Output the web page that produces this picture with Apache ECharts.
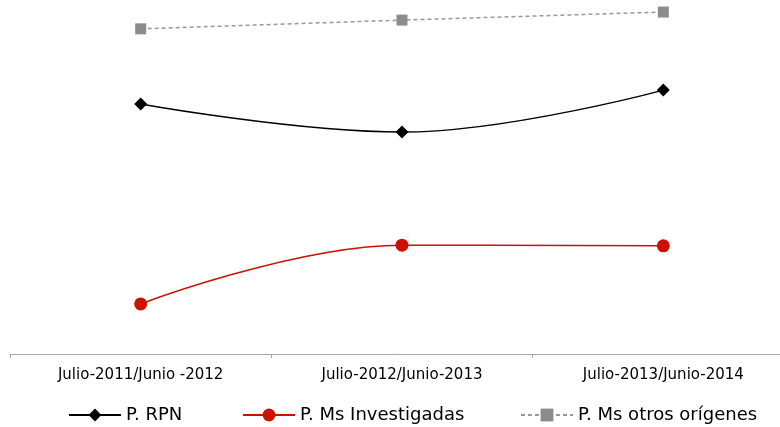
<!DOCTYPE html>
<html><head><meta charset="utf-8">
<script src="https://cdn.jsdelivr.net/npm/echarts@6/dist/echarts.min.js"></script>
<style>html,body{margin:0;padding:0;background:#fff}#c{width:780px;height:427px}</style>
</head><body><div id="c"></div>
<script>
var categories = ['Julio-2011/Junio -2012', 'Julio-2012/Junio-2013', 'Julio-2013/Junio-2014'];
var seriesNames = ['P. RPN', 'P. Ms Investigadas', 'P. Ms otros orígenes'];
var rpn = [71.4, 63.4, 75.4];
var investigadas = [14.3, 31.1, 30.9];
var otros = [92.9, 95.4, 97.7];

var legendText = {color: '#000', fontFamily: 'DejaVu Sans', fontSize: 18};
function leg(name, left) {
  return {top: 401, left: left, itemWidth: 52, itemHeight: 16, itemGap: 8,
          textStyle: legendText, data: [name]};
}
var chart = echarts.init(document.getElementById('c'), null, {renderer: 'canvas'});
chart.setOption({
  animation: false,
  backgroundColor: '#fff',
  grid: {left: 10, top: 4, width: 784, height: 350, containLabel: false, outerBoundsMode: 'none'},
  xAxis: {
    type: 'category', data: categories, boundaryGap: true,
    axisLine: {lineStyle: {color: '#a6a6a6', width: 1}},
    axisTick: {show: true, length: 4, lineStyle: {color: '#a6a6a6'}},
    axisLabel: {color: '#000', fontFamily: 'DejaVu Sans', fontSize: 15, margin: 14}
  },
  yAxis: {type: 'value', min: 0, max: 100, show: false, splitLine: {show: false}},
  legend: [leg(seriesNames[0], 63), leg(seriesNames[1], 237), leg(seriesNames[2], 515)],
  series: [
    {name: seriesNames[0], type: 'line', data: rpn, smooth: 0.4,
     symbol: 'diamond', symbolSize: 13,
     itemStyle: {color: '#000'}, lineStyle: {color: '#000', width: 1.5}},
    {name: seriesNames[1], type: 'line', data: investigadas, smooth: 0.4,
     symbol: 'circle', symbolSize: 13,
     itemStyle: {color: '#cc1100'}, lineStyle: {color: '#cc1100', width: 1.5}},
    {name: seriesNames[2], type: 'line', data: otros,
     symbol: 'rect', symbolSize: 11,
     itemStyle: {color: '#8c8c8c'}, lineStyle: {color: '#999999', width: 1.5, type: [4, 3]}}
  ]
});
</script></body></html>
